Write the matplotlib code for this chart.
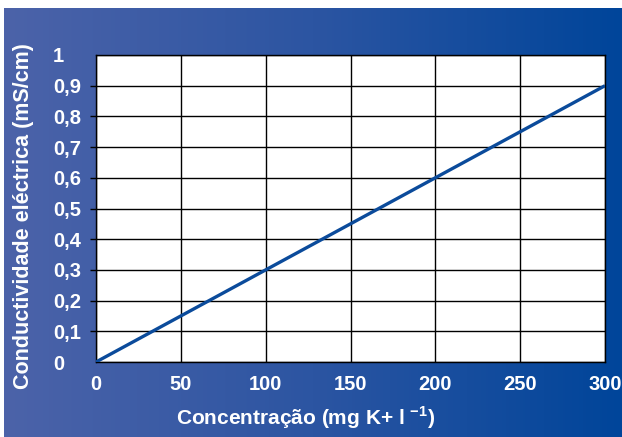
import matplotlib
matplotlib.use("Agg")
import matplotlib.pyplot as plt
import numpy as np
from matplotlib.colors import LinearSegmentedColormap

plt.rcParams["font.family"] = ["Liberation Sans", "DejaVu Sans"]
plt.rcParams["font.weight"] = "bold"
plt.rcParams["mathtext.fontset"] = "custom"
plt.rcParams["mathtext.bf"] = "Liberation Sans:bold"
plt.rcParams["mathtext.rm"] = "Liberation Sans:bold"

# data
conc = [0, 300]
cond = [0, 0.9]
x_ticks = [0, 50, 100, 150, 200, 250, 300]
y_ticks = [0, 0.1, 0.2, 0.3, 0.4, 0.5, 0.6, 0.7, 0.8, 0.9, 1.0]
y_labels = ["0", "0,1", "0,2", "0,3", "0,4", "0,5", "0,6", "0,7", "0,8", "0,9", "1"]

W, H = 622, 437
fig = plt.figure(figsize=(W / 100, H / 100), dpi=100)
fig.patch.set_facecolor("white")

# gradient background panel
bg = fig.add_axes([4 / W, 0, 1 - 4 / W, 1 - 8 / H])
cmap = LinearSegmentedColormap.from_list("bg", ["#4c63a9", "#2c55a2", "#00459a"])
bg.imshow(np.linspace(0, 1, 256).reshape(1, -1), aspect="auto", cmap=cmap,
          extent=[0, 1, 0, 1])
bg.set_axis_off()

ax = fig.add_axes([96 / W, 1 - 362 / H, (605 - 96) / W, (362 - 55) / H])
ax.set_facecolor("white")
ax.plot(conc, cond, color="#0b4b9b", linewidth=2.4, solid_capstyle="butt", zorder=3)

ax.set_xlim(0, 300)
ax.set_ylim(0, 1)
ax.set_xticks(x_ticks)
ax.set_yticks(y_ticks)
ax.set_yticklabels(y_labels, ha="left")
ax.grid(True, color="black", linewidth=1.0)
for s in ax.spines.values():
    s.set_color("black")
    s.set_linewidth(1.0)

ax.tick_params(axis="x", length=0, pad=9.5, labelsize=14.5, labelcolor="white")
ax.tick_params(axis="y", length=4.5, width=1.0, color="black", pad=26.5,
               labelsize=14.5, labelcolor="white")
for t in (ax.yaxis.get_major_ticks()[0], ax.yaxis.get_major_ticks()[-1]):
    t.tick1line.set_visible(False)
for lbl in ax.get_xticklabels() + ax.get_yticklabels():
    lbl.set_fontweight("bold")

fig.text(306 / W, 1 - 418 / H, r"Concentração (mg K+ l $^{\mathbf{-1}}$)",
         color="white", fontsize=15, fontweight="bold", ha="center", va="center")
fig.text(24 / W, 1 - 216 / H, "Conductividade eléctrica (mS/cm)",
         color="white", fontsize=15.5, fontweight="bold", rotation=90,
         ha="center", va="center")

fig.savefig("out.png", dpi=100)
